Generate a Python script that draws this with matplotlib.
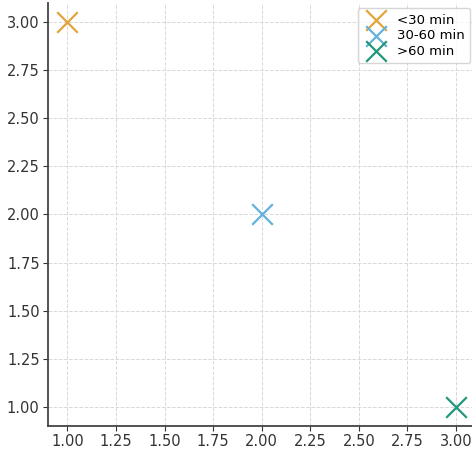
import matplotlib.pyplot as plt

# Data
labels = ['<30 min', '30-60 min', '>60 min']
x_vals = [1, 2, 3]
y_vals = [3, 2, 1]
colors = ['#E3A43A', '#62B2DC', '#22977A']

fig = plt.figure(figsize=(4.72, 4.49), dpi=100)
ax = fig.add_axes([48/472, 23/449, 427.5/472, 423/449])

for x, y, c, lab in zip(x_vals, y_vals, colors, labels):
    ax.scatter(x, y, marker='x', s=220, color=c, linewidths=1.6, label=lab, zorder=3)

ax.set_xlim(0.9, 3.1)
ax.set_ylim(0.9, 3.1)
ax.set_xticks([1.0, 1.25, 1.5, 1.75, 2.0, 2.25, 2.5, 2.75, 3.0])
ax.set_yticks([1.0, 1.25, 1.5, 1.75, 2.0, 2.25, 2.5, 2.75, 3.0])
ax.xaxis.set_major_formatter(plt.FormatStrFormatter('%.2f'))
ax.yaxis.set_major_formatter(plt.FormatStrFormatter('%.2f'))
ax.grid(True, linestyle='--', color='#d8d8d8', linewidth=0.7)
ax.spines['top'].set_visible(False)
ax.spines['right'].set_visible(False)
for s in ['left', 'bottom']:
    ax.spines[s].set_color('#444444')
    ax.spines[s].set_linewidth(1.3)
ax.tick_params(labelsize=10.5, colors='#333333', pad=2.5)
ax.legend(loc='upper right', fontsize=9.5, labelspacing=0.2, handletextpad=0.6,
          borderaxespad=0.4, scatterpoints=1)

plt.savefig('out.png', dpi=100)
